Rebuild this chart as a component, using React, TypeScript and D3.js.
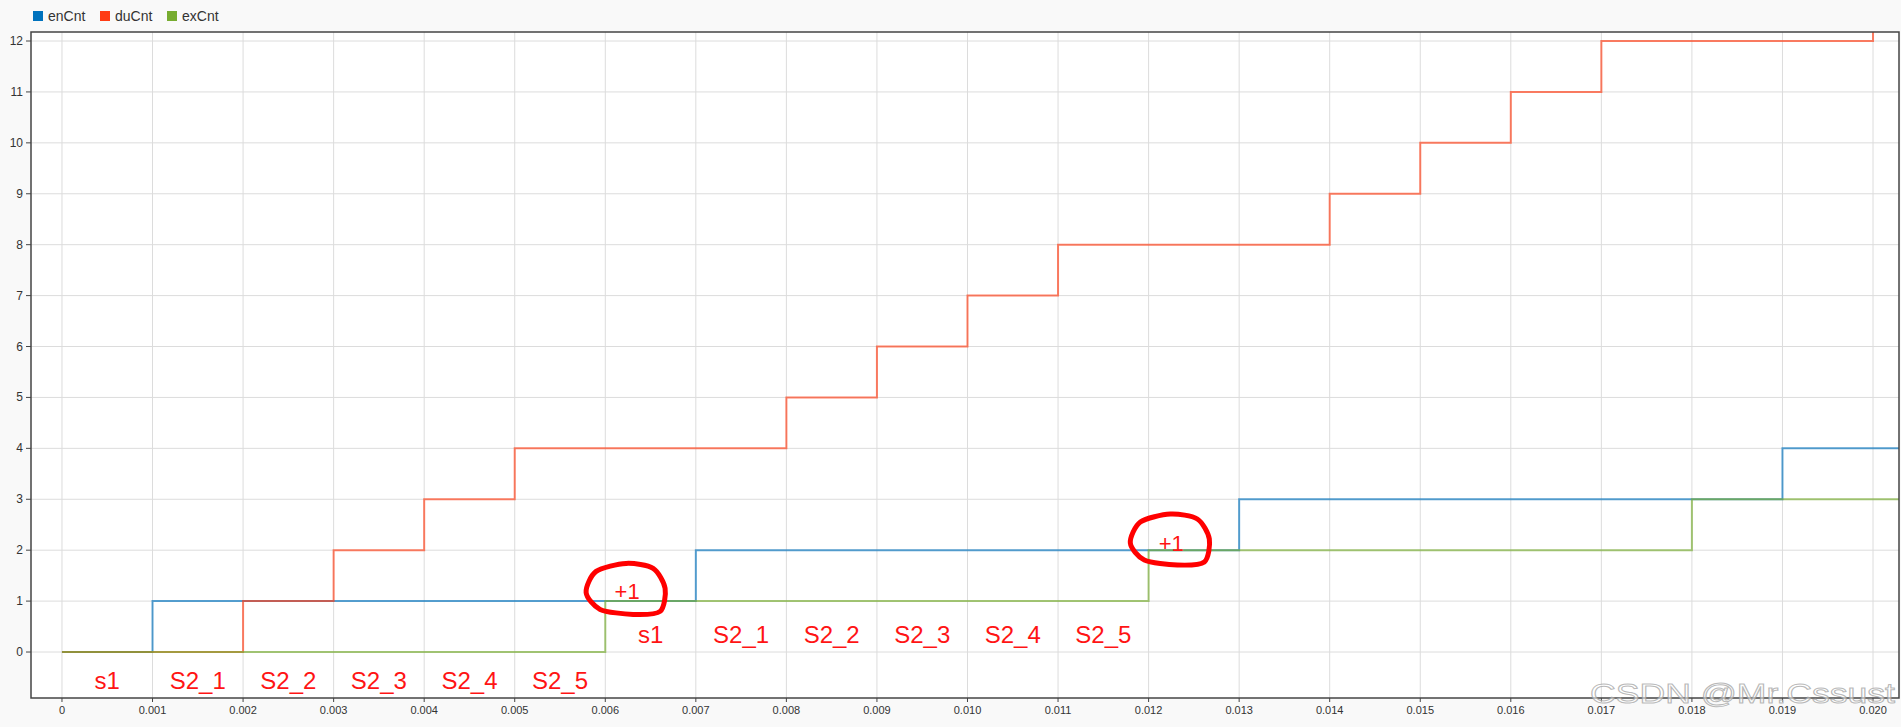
import React from "react";
import * as d3 from "d3";

const W = 1901;
const H = 727;

// series (step change points)
const seriesNames = ["enCnt", "duCnt", "exCnt"];
const seriesColors = ["#0072bd", "#ff3c14", "#77ac30"];

const enTimes = [0, 0.001, 0.007, 0.013, 0.019];
const enValues = [0, 1, 2, 3, 4];

const duTimes = [0, 0.002, 0.003, 0.004, 0.005, 0.008, 0.009, 0.01, 0.011, 0.014, 0.015, 0.016, 0.017, 0.02];
const duValues = [0, 1, 2, 3, 4, 5, 6, 7, 8, 9, 10, 11, 12, 13];

const exTimes = [0, 0.006, 0.012, 0.018];
const exValues = [0, 1, 2, 3];

const xTickValues = [0, 0.001, 0.002, 0.003, 0.004, 0.005, 0.006, 0.007, 0.008, 0.009, 0.01, 0.011, 0.012, 0.013, 0.014, 0.015, 0.016, 0.017, 0.018, 0.019, 0.02];
const xTickLabels = ["0", "0.001", "0.002", "0.003", "0.004", "0.005", "0.006", "0.007", "0.008", "0.009", "0.010", "0.011", "0.012", "0.013", "0.014", "0.015", "0.016", "0.017", "0.018", "0.019", "0.020"];
const yTickValues = [0, 1, 2, 3, 4, 5, 6, 7, 8, 9, 10, 11, 12];
const yTickLabels = ["0", "1", "2", "3", "4", "5", "6", "7", "8", "9", "10", "11", "12"];

// hand-written annotations
const phaseLabels = ["s1", "S2_1", "S2_2", "S2_3", "S2_4", "S2_5"];
const phaseMids1 = [0.0005, 0.0015, 0.0025, 0.0035, 0.0045, 0.0055];
const phaseMids2 = [0.0065, 0.0075, 0.0085, 0.0095, 0.0105, 0.0115];
const phaseRowValues = [-0.73, 0.18];
const bumpTimes = [0.00623, 0.01224];
const bumpValues = [1.23, 2.2];
const bumpTextValues = [1.19, 2.15];

const font = "'Liberation Sans', Arial, sans-serif";

export default function App() {
  const margin = { left: 31, top: 32, right: 2, bottom: 29 };
  const x = d3.scaleLinear().domain([-0.000342, 0.020287]).range([margin.left, W - margin.right]);
  const y = d3.scaleLinear().domain([-0.903, 12.177]).range([H - margin.bottom, margin.top]);

  const x0 = x.range()[0], x1 = x.range()[1];
  const y0 = y.range()[1], y1 = y.range()[0];

  const toPts = (ts: number[], vs: number[]) => {
    const pts = ts.map((t, i) => [t, vs[i]] as [number, number]);
    pts.push([x.domain()[1], vs[vs.length - 1]]);
    return pts;
  };
  const series = [toPts(enTimes, enValues), toPts(duTimes, duValues), toPts(exTimes, exValues)];

  const line = d3
    .line<[number, number]>()
    .x((d) => x(d[0]))
    .y((d) => y(d[1]))
    .curve(d3.curveStepAfter);

  // blob shape around "+1"
  const blobOffsets: [number, number][] = [
    [0, -26], [27, -21], [39, -1], [34, 22], [7, 25], [-26, 20], [-40, 3], [-30, -18],
  ];
  const blob = d3.line<[number, number]>().curve(d3.curveCardinalClosed.tension(0.2));

  return (
    <svg width={W} height={H} style={{ position: "absolute", left: 0, top: 0, background: "#f9f9f9" }} fontFamily={font}>
      <defs>
        <clipPath id="plotclip">
          <rect x={x0} y={y0} width={x1 - x0} height={y1 - y0} />
        </clipPath>
      </defs>

      {/* legend */}
      {seriesNames.map((n, i) => {
        const lx = [33, 100, 167][i];
        return (
          <g key={n}>
            <rect x={lx} y={11} width={10} height={10} fill={seriesColors[i]} />
            <text x={lx + 15} y={21} fontSize={14} fill="#333">{n}</text>
          </g>
        );
      })}

      <rect x={x0} y={y0} width={x1 - x0} height={y1 - y0} fill="#fff" />

      {/* grid */}
      {xTickValues.map((t) => (
        <line key={"gx" + t} x1={x(t)} x2={x(t)} y1={y0} y2={y1} stroke="#dcdcdc" strokeWidth={1} />
      ))}
      {yTickValues.map((v) => (
        <line key={"gy" + v} x1={x0} x2={x1} y1={y(v)} y2={y(v)} stroke="#dcdcdc" strokeWidth={1} />
      ))}

      {/* series */}
      <g clipPath="url(#plotclip)">
        {series.map((pts, i) => (
          <path key={i} d={line(pts) || ""} fill="none" stroke={seriesColors[i]} strokeOpacity={0.65} strokeWidth={2} />
        ))}
      </g>

      {/* frame */}
      <rect x={x0} y={y0} width={x1 - x0} height={y1 - y0} fill="none" stroke="#444" strokeWidth={1.5} />

      {/* axes ticks */}
      {xTickValues.map((t, i) => (
        <g key={"tx" + t}>
          <line x1={x(t)} x2={x(t)} y1={y1} y2={y1 + 4} stroke="#444" />
          <text x={x(t)} y={714} fontSize={11} textAnchor="middle" fill="#333">{xTickLabels[i]}</text>
        </g>
      ))}
      {yTickValues.map((v, i) => (
        <g key={"ty" + v}>
          <line x1={x0 - 5} x2={x0} y1={y(v)} y2={y(v)} stroke="#444" />
          <text x={23} y={y(v) + 4} fontSize={12} textAnchor="end" fill="#333">{yTickLabels[i]}</text>
        </g>
      ))}

      {/* annotations */}
      {[phaseMids1, phaseMids2].map((mids, r) =>
        mids.map((t, i) => (
          <text key={"p" + r + i} x={x(t)} y={y(phaseRowValues[r])} fontSize={24} textAnchor="middle" fill="#ff1414">
            {phaseLabels[i]}
          </text>
        ))
      )}
      {bumpTimes.map((t, i) => {
        const cx = x(t), cy = y(bumpValues[i]);
        return (
          <g key={"b" + i}>
            <text x={cx + 1} y={y(bumpTextValues[i]) + 8} fontSize={22} textAnchor="middle" fill="#ff1414">+1</text>
            <path
              d={blob(blobOffsets.map(([dx, dy]) => [cx + dx, cy + dy] as [number, number])) || ""}
              fill="none"
              stroke="#ff0000"
              strokeWidth={5}
              strokeLinejoin="round"
            />
          </g>
        );
      })}

      {/* watermark */}
      <text x={1590} y={703} fontSize={28} textLength={305} lengthAdjust="spacingAndGlyphs" fill="#ffffff" fillOpacity={0.55} stroke="#9a9a9a" strokeOpacity={0.7} strokeWidth={1}>
        CSDN @Mr.Cssust
      </text>
    </svg>
  );
}
